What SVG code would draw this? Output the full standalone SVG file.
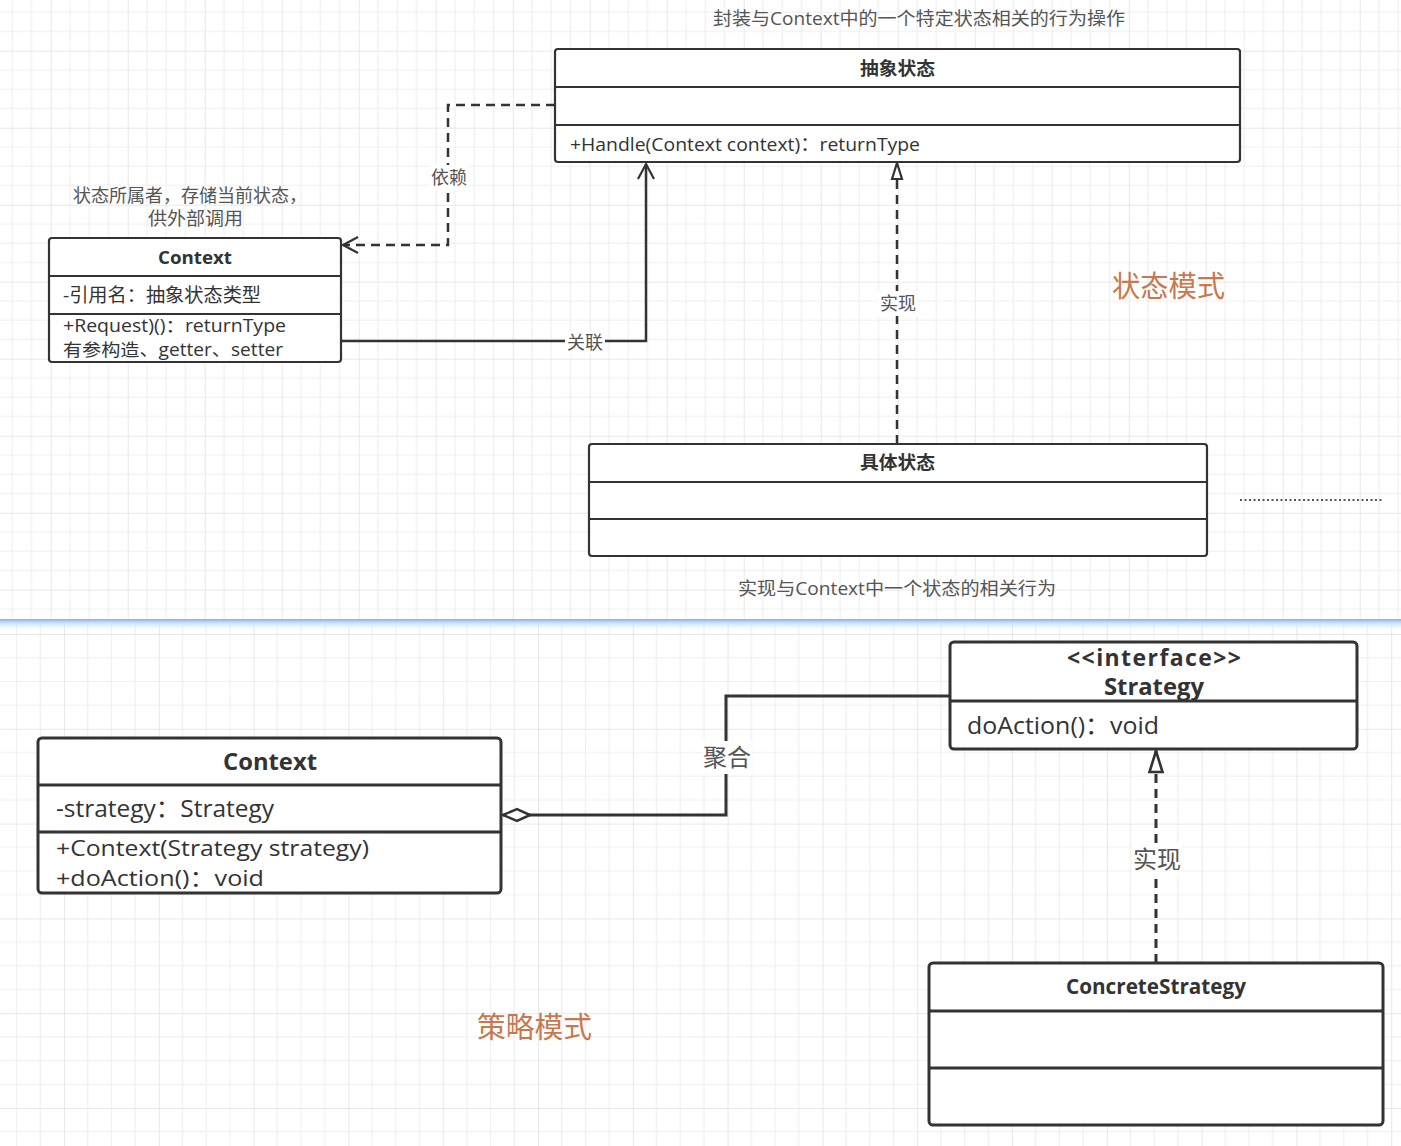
<svg xmlns="http://www.w3.org/2000/svg" width="1401" height="1146" viewBox="0 0 1401 1146">
<defs>
<style>
.box{fill:#fff;stroke:#333;stroke-width:2.2}
.box2{fill:#fff;stroke:#333;stroke-width:3}
.div{stroke:#333;stroke-width:2.2}
.div2{stroke:#333;stroke-width:3}
.t{font-family:'Open Sans','Noto Sans CJK SC',sans-serif;fill:#333}
.b{font-weight:bold}
.note{font-family:'Open Sans','Noto Sans CJK SC',sans-serif;fill:#555;font-size:18px}
.lbl{font-family:'Open Sans','Noto Sans CJK SC',sans-serif;fill:#555;font-size:18px;text-anchor:middle}
.lbg{fill:#fff}
.title{font-family:'Noto Sans CJK SC',sans-serif;fill:#c8784f;font-size:29px}
.con{fill:none;stroke:#333;stroke-width:2.5}
.dash{stroke-dasharray:9 6}
</style>
<pattern id="gTop" patternUnits="userSpaceOnUse" x="50.7" y="50.7" width="77" height="77">
<path d="M0 0V77M19.25 0V77M38.5 0V77M57.75 0V77M0 0H77M0 19.25H77M0 38.5H77M0 57.75H77" stroke="#efefef" stroke-width="1.2" fill="none"/>
<path d="M0 0V77M0 0H77" stroke="#e3e3e3" stroke-width="1.5" fill="none"/>
</pattern>
<pattern id="gBot" patternUnits="userSpaceOnUse" x="64" y="634" width="94.8" height="94.8">
<path d="M0 0V95M23.7 0V95M47.4 0V95M71.1 0V95M0 0H95M0 23.7H95M0 47.4H95M0 71.1H95" stroke="#efefef" stroke-width="1.2" fill="none"/>
<path d="M0 0V95M0 0H95" stroke="#e3e3e3" stroke-width="1.5" fill="none"/>
</pattern>
<linearGradient id="blue" x1="0" y1="0" x2="0" y2="1">
<stop offset="0" stop-color="#7eaef0" stop-opacity="1"/>
<stop offset="0.3" stop-color="#c0d8f8" stop-opacity="0.85"/>
<stop offset="1" stop-color="#eef4fd" stop-opacity="0"/>
</linearGradient>
<marker id="open" markerUnits="userSpaceOnUse" markerWidth="20" markerHeight="20" refX="16" refY="10" orient="auto">
<path d="M1 2L16 10L1 18" fill="none" stroke="#333" stroke-width="2.2"/>
</marker>
<marker id="tri" markerUnits="userSpaceOnUse" markerWidth="20" markerHeight="14" refX="18" refY="7" orient="auto">
<path d="M2 2L18 7L2 12Z" fill="#fff" stroke="#333" stroke-width="2.2"/>
</marker>
<marker id="tri2" markerUnits="userSpaceOnUse" markerWidth="26" markerHeight="18" refX="23" refY="9" orient="auto">
<path d="M2 2.5L23 9L2 15.5Z" fill="#fff" stroke="#333" stroke-width="2.6"/>
</marker>
<marker id="dia" markerUnits="userSpaceOnUse" markerWidth="32" markerHeight="16" refX="29" refY="8" orient="auto">
<path d="M2 8L15 2L29 8L15 14Z" fill="#fff" stroke="#333" stroke-width="2.5"/>
</marker>
</defs>

<rect x="0" y="0" width="1401" height="1146" fill="#fff"/>
<rect x="0" y="0" width="1401" height="620" fill="url(#gTop)"/>
<rect x="0" y="620" width="1401" height="526" fill="url(#gBot)"/>
<rect x="0" y="619" width="1401" height="12" fill="url(#blue)"/>

<text class="note" x="713" y="25" textLength="412" lengthAdjust="spacingAndGlyphs">封装与Context中的一个特定状态相关的行为操作</text>
<text class="note" x="73" y="202" textLength="234" lengthAdjust="spacingAndGlyphs">状态所属者，存储当前状态，</text>
<text class="note" x="148" y="225" textLength="95" lengthAdjust="spacingAndGlyphs">供外部调用</text>
<text class="note" x="738" y="595" textLength="318" lengthAdjust="spacingAndGlyphs">实现与Context中一个状态的相关行为</text>
<text class="title" x="1112" y="297" textLength="113" lengthAdjust="spacingAndGlyphs">状态模式</text>
<text class="title" x="477" y="1038" textLength="115" lengthAdjust="spacingAndGlyphs">策略模式</text>
<line x1="1240" y1="500" x2="1383" y2="500" stroke="#555" stroke-width="2" stroke-dasharray="2 2.5"/>

<g id="connectors">
<path class="con dash" d="M555 105H448V245H343" marker-end="url(#open)"/>
<rect class="lbg" x="429" y="165" width="40" height="25"/>
<text class="lbl" x="449" y="184">依赖</text>
<path class="con" d="M341 341H646V164" marker-end="url(#open)"/>
<rect class="lbg" x="565" y="331" width="40" height="23"/>
<text class="lbl" x="585" y="349">关联</text>
<path class="con dash" d="M897 444V163" marker-end="url(#tri)"/>
<rect class="lbg" x="878" y="291" width="40" height="25"/>
<text class="lbl" x="898" y="310">实现</text>
<path class="con" style="stroke-width:3" d="M950 696H726V815H503" marker-end="url(#dia)"/>
<rect class="lbg" x="702" y="741" width="50" height="33"/>
<text class="lbl" x="727" y="766" style="font-size:24px">聚合</text>
<path class="con dash" style="stroke-width:3" d="M1156 963V751" marker-end="url(#tri2)"/>
<rect class="lbg" x="1132" y="843" width="50" height="33"/>
<text class="lbl" x="1157" y="868" style="font-size:24px">实现</text>
</g>

<g id="abstract-state">
<rect class="box" x="555" y="49" width="685" height="113" rx="3"/>
<line class="div" x1="555" y1="87" x2="1240" y2="87"/>
<line class="div" x1="555" y1="125" x2="1240" y2="125"/>
<text class="t b" x="860" y="75" font-size="18" textLength="75" lengthAdjust="spacingAndGlyphs">抽象状态</text>
<text class="t" x="570" y="151" font-size="19" textLength="350" lengthAdjust="spacingAndGlyphs">+Handle(Context context)：returnType</text>
</g>

<g id="context-state">
<rect class="box" x="49" y="238" width="292" height="124" rx="3"/>
<line class="div" x1="49" y1="276" x2="341" y2="276"/>
<line class="div" x1="49" y1="314" x2="341" y2="314"/>
<text class="t b" x="158" y="264" font-size="18" textLength="74" lengthAdjust="spacingAndGlyphs">Context</text>
<text class="t" x="63" y="302" font-size="19" textLength="198" lengthAdjust="spacingAndGlyphs">-引用名：抽象状态类型</text>
<text class="t" x="63" y="332" font-size="17.5" textLength="223" lengthAdjust="spacingAndGlyphs">+Request)()：returnType</text>
<text class="t" x="63" y="356" font-size="17.5" textLength="220" lengthAdjust="spacingAndGlyphs">有参构造、getter、setter</text>
</g>

<g id="concrete-state">
<rect class="box" x="589" y="444" width="618" height="112" rx="3"/>
<line class="div" x1="589" y1="482" x2="1207" y2="482"/>
<line class="div" x1="589" y1="519" x2="1207" y2="519"/>
<text class="t b" x="860" y="469" font-size="18" textLength="75" lengthAdjust="spacingAndGlyphs">具体状态</text>
</g>

<g id="strategy">
<rect class="box2" x="950" y="642" width="407" height="107" rx="4"/>
<line class="div2" x1="950" y1="701" x2="1357" y2="701"/>
<text class="t b" x="1067" y="666" font-size="23" textLength="174" lengthAdjust="spacing">&lt;&lt;interface&gt;&gt;</text>
<text class="t b" x="1104" y="695" font-size="23" textLength="100" lengthAdjust="spacingAndGlyphs">Strategy</text>
<text class="t" x="967" y="734" font-size="24" textLength="192" lengthAdjust="spacingAndGlyphs">doAction()：void</text>
</g>

<g id="context-strategy">
<rect class="box2" x="38" y="738" width="463" height="155" rx="4"/>
<line class="div2" x1="38" y1="785" x2="501" y2="785"/>
<line class="div2" x1="38" y1="832" x2="501" y2="832"/>
<text class="t b" x="223" y="770" font-size="23" textLength="94" lengthAdjust="spacingAndGlyphs">Context</text>
<text class="t" x="56" y="817" font-size="24" textLength="218" lengthAdjust="spacingAndGlyphs">-strategy：Strategy</text>
<text class="t" x="56" y="856" font-size="22" textLength="313" lengthAdjust="spacingAndGlyphs">+Context(Strategy strategy)</text>
<text class="t" x="56" y="886" font-size="22" textLength="208" lengthAdjust="spacingAndGlyphs">+doAction()：void</text>
</g>

<g id="concrete-strategy">
<rect class="box2" x="929" y="963" width="454" height="162" rx="4"/>
<line class="div2" x1="929" y1="1011" x2="1383" y2="1011"/>
<line class="div2" x1="929" y1="1068" x2="1383" y2="1068"/>
<text class="t b" x="1066" y="994" font-size="21" textLength="180" lengthAdjust="spacingAndGlyphs">ConcreteStrategy</text>
</g>
</svg>
